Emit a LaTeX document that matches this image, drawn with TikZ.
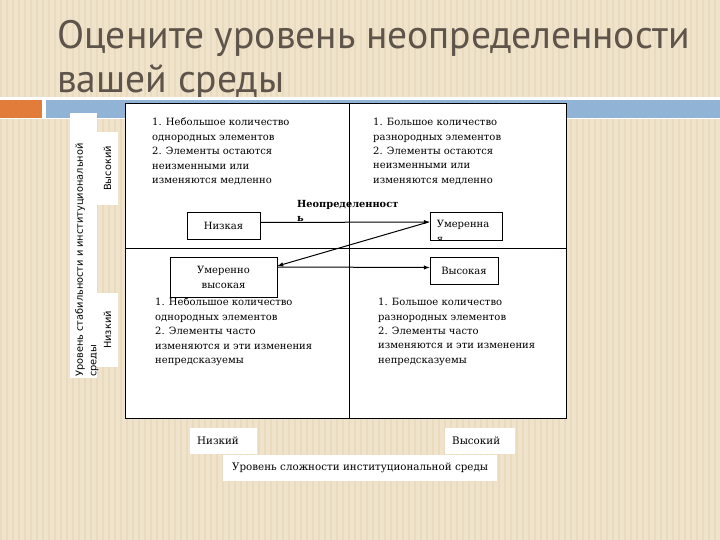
\documentclass[tikz,border=0pt]{standalone}
\usepackage{fontspec}
\setmainfont{DejaVu Serif}
\setsansfont{DejaVu Sans}
\newfontfamily\titlefont{PT Sans}
\usetikzlibrary{positioning}
\definecolor{bgbeige}{RGB}{240,227,203}
\definecolor{bgstripe}{RGB}{234,218,190}
\definecolor{titlegray}{RGB}{94,84,74}
\definecolor{barorange}{RGB}{226,124,58}
\definecolor{barblue}{RGB}{145,180,214}
\tikzset{
  lvl/.style={draw, fill=white, line width=.8pt, inner sep=0pt, align=center, font=\fontsize{10}{15}\selectfont},
  note/.style={anchor=north west, inner sep=0pt, align=left, font=\fontsize{10}{14.4}\selectfont},
  tag/.style={fill=white, anchor=north west, inner xsep=7pt, inner ysep=0pt, minimum height=26pt, align=left, font=\fontsize{10.3}{12}\selectfont},
  side/.style={rotate=90, inner sep=0pt, align=left, font=\sffamily\fontsize{9.8}{13.5}\selectfont}
}
\begin{document}
\begin{tikzpicture}[x=1pt, y=-1pt, >=latex]
\useasboundingbox (0,0) rectangle (720,540);
\fill[bgbeige] (0,0) rectangle (720,540);
\foreach \s in {0,6,...,714} \fill[bgstripe] (\s,0) rectangle ++(2,540);
\node[anchor=north west, inner sep=0pt, align=left, text=titlegray, font=\titlefont\fontsize{39.6}{44}\selectfont] (title) at (57,20) {Оцените уровень неопределенности\\вашей среды};
\fill[white] (0,97) rectangle (720,119);
\fill[barorange] (0,100) rectangle (42,118);
\fill[barblue] (46,100) rectangle (720,118);
\fill[white] (70,113) rectangle (97,378);
\node[side, anchor=north west] (yaxis) at (75,377) {Уровень стабильности и институциональной\\среды};
\node[side, fill=white, minimum width=73pt, minimum height=21pt] (yhigh) at (107.5,168.5) {Высокий};
\node[side, fill=white, minimum width=74pt, minimum height=21pt] (ylow) at (107.5,330) {Низкий};
\node[draw, fill=white, line width=.8pt, minimum width=441pt, minimum height=315pt] (grid) at (345.5,260.5) {};
\draw ([xshift=3.5pt]grid.north)--([xshift=3.5pt]grid.south);
\draw ([yshift=12.5pt]grid.west)--([yshift=12.5pt]grid.east);
\node[note] (q1) at (152,118) {1. Небольшое количество\\однородных элементов\\2. Элементы остаются\\неизменными или\\изменяются медленно};
\node[note] (q2) at (373,118) {1. Большое количество\\разнородных элементов\\2. Элементы остаются\\неизменными или\\изменяются медленно};
\node[note] (q3) at (155,298) {1. Небольшое количество\\однородных элементов\\2. Элементы часто\\изменяются и эти изменения\\непредсказуемы};
\node[note] (q4) at (378,298) {1. Большое количество\\разнородных элементов\\2. Элементы часто\\изменяются и эти изменения\\непредсказуемы};
\node[lvl, minimum width=73pt, minimum height=27pt] (low) at (223.5,225.5) {Низкая};
\node[lvl, minimum width=107pt, minimum height=40pt] (modhigh) at (223.5,277) {Умеренно\\высокая};
\node[lvl, minimum width=72pt, minimum height=28pt] (mod) at (466,226) {};
\begin{scope}
\clip (mod.north west) rectangle (mod.south east);
\node[anchor=north west, inner sep=0pt, align=left, font=\fontsize{10}{15}\selectfont] (modtext) at ([xshift=7pt,yshift=-8pt]mod.north west) {Умеренна\\я};
\end{scope}
\node[lvl, minimum width=68pt, minimum height=27pt] (high) at (464,270.5) {Высокая};
\node[anchor=north west, inner sep=0pt, align=left, font=\bfseries\fontsize{9.8}{14}\selectfont] (unc) at (297,200) {Неопределенност\\ь};
\draw[->, line width=1pt]([yshift=3pt]low.east)--([yshift=4pt]mod.west);
\draw[->, line width=1pt]([xshift=-1pt,yshift=4pt]mod.west)--([yshift=11pt]modhigh.east);
\draw[->, line width=1pt]([yshift=10pt]modhigh.east)--([yshift=3pt]high.west);
\node[tag, text width=53pt] (xlow) at (190,428) {Низкий};
\node[tag, text width=56pt] (xhigh) at (445,428) {Высокий};
\node[tag, text width=256pt, inner xsep=9pt] (xaxis) at (223,455) {Уровень сложности институциональной среды};
\end{tikzpicture}
\end{document}
